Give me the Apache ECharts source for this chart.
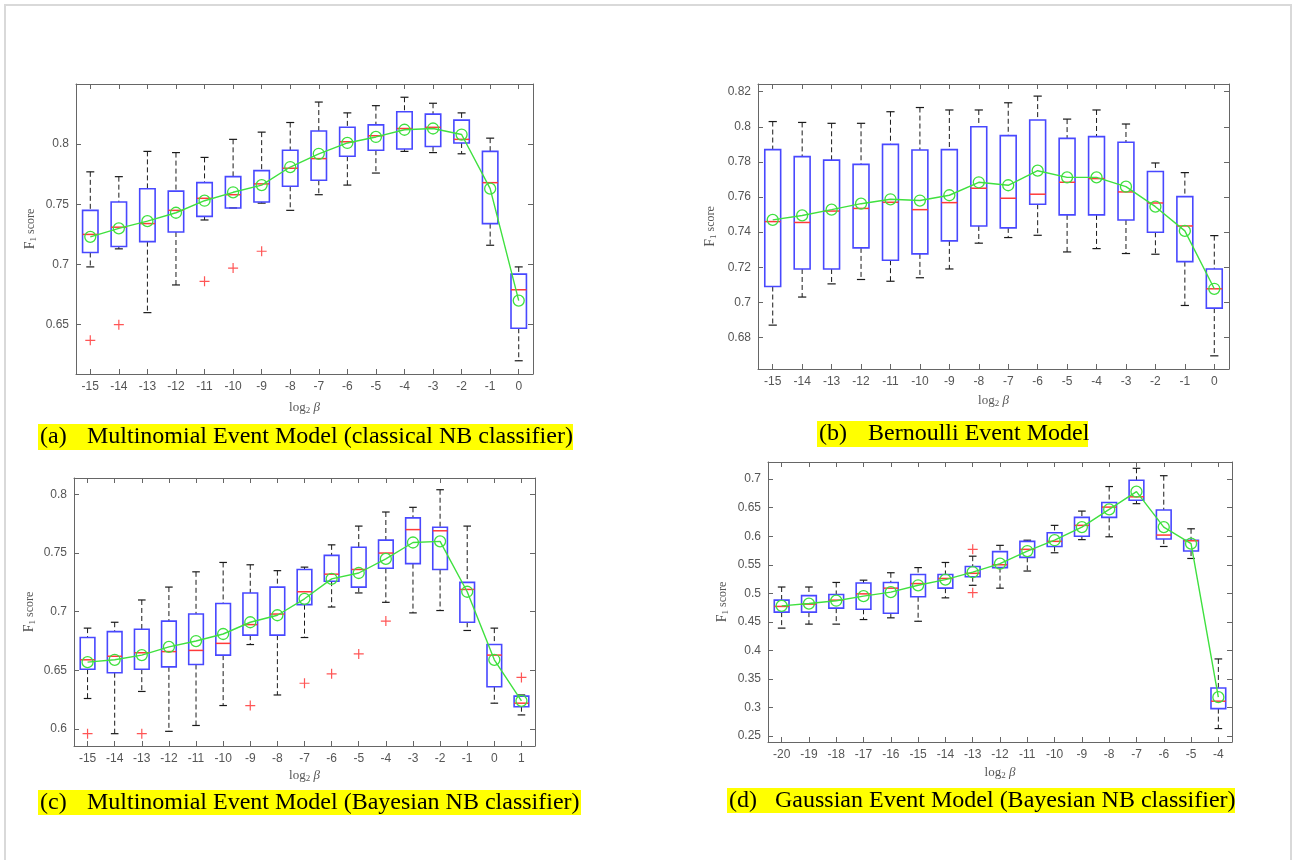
<!DOCTYPE html>
<html>
<head>
<meta charset="utf-8">
<style>
  html, body { margin: 0; padding: 0; background: #fff; }
  #main { width: 1295px; height: 860px; }
</style>
<script src="https://cdn.jsdelivr.net/npm/echarts/dist/echarts.min.js"></script>
</head>
<body>
<div id="main"></div>
<script>
// ---- data: [lower whisker, Q1, median, Q3, upper whisker] per category ----
var catsA = [-15, -14, -13, -12, -11, -10, -9, -8, -7, -6, -5, -4, -3, -2, -1, 0];
var boxA = [
  [0.698, 0.710, 0.725, 0.745, 0.777],
  [0.713, 0.715, 0.731, 0.752, 0.773],
  [0.660, 0.719, 0.734, 0.763, 0.794],
  [0.683, 0.727, 0.745, 0.761, 0.793],
  [0.737, 0.740, 0.755, 0.768, 0.789],
  [0.747, 0.747, 0.758, 0.773, 0.804],
  [0.751, 0.752, 0.767, 0.778, 0.810],
  [0.745, 0.765, 0.780, 0.795, 0.818],
  [0.758, 0.770, 0.788, 0.811, 0.835],
  [0.766, 0.790, 0.802, 0.814, 0.826],
  [0.776, 0.795, 0.807, 0.816, 0.832],
  [0.794, 0.796, 0.813, 0.827, 0.839],
  [0.793, 0.798, 0.814, 0.825, 0.834],
  [0.792, 0.801, 0.804, 0.820, 0.826],
  [0.716, 0.734, 0.768, 0.794, 0.805],
  [0.620, 0.647, 0.679, 0.692, 0.698]
];
var meanA = [0.723, 0.730, 0.736, 0.743, 0.753, 0.760, 0.766, 0.781, 0.792, 0.801, 0.806, 0.812, 0.813, 0.808, 0.763, 0.670];
var outA = [[-15, 0.637], [-14, 0.650], [-11, 0.686], [-10, 0.697], [-9, 0.711]];
var ticksA = [0.65, 0.7, 0.75, 0.8];

var catsB = [-15, -14, -13, -12, -11, -10, -9, -8, -7, -6, -5, -4, -3, -2, -1, 0];
var boxB = [
  [0.687, 0.709, 0.746, 0.787, 0.803],
  [0.703, 0.719, 0.7455, 0.783, 0.8025],
  [0.7105, 0.719, 0.752, 0.781, 0.802],
  [0.713, 0.731, 0.7535, 0.7786, 0.802],
  [0.712, 0.724, 0.757, 0.790, 0.8086],
  [0.714, 0.7276, 0.7528, 0.7868, 0.811],
  [0.719, 0.735, 0.7568, 0.787, 0.8096],
  [0.7337, 0.7435, 0.765, 0.800, 0.8096],
  [0.7369, 0.7424, 0.7593, 0.795, 0.8137],
  [0.7382, 0.7559, 0.7616, 0.8039, 0.8175],
  [0.7287, 0.7498, 0.7684, 0.7934, 0.8044],
  [0.7306, 0.7498, 0.7705, 0.7944, 0.8096],
  [0.7278, 0.7469, 0.7629, 0.7912, 0.8016],
  [0.7274, 0.7399, 0.7566, 0.7745, 0.7794],
  [0.6982, 0.7232, 0.7435, 0.7602, 0.7739],
  [0.6695, 0.6967, 0.7077, 0.719, 0.738]
];
var meanB = [0.747, 0.7495, 0.7528, 0.7562, 0.7587, 0.758, 0.761, 0.7684, 0.7667, 0.775, 0.7712, 0.7712, 0.7659, 0.7545, 0.7407, 0.7077];
var outB = [];
var ticksB = [0.68, 0.7, 0.72, 0.74, 0.76, 0.78, 0.8, 0.82];

var catsC = [-15, -14, -13, -12, -11, -10, -9, -8, -7, -6, -5, -4, -3, -2, -1, 0, 1];
var boxC = [
  [0.626, 0.651, 0.659, 0.678, 0.686],
  [0.596, 0.648, 0.662, 0.683, 0.691],
  [0.632, 0.651, 0.665, 0.685, 0.710],
  [0.598, 0.653, 0.666, 0.692, 0.721],
  [0.603, 0.655, 0.667, 0.698, 0.734],
  [0.620, 0.663, 0.673, 0.707, 0.742],
  [0.672, 0.680, 0.689, 0.716, 0.740],
  [0.629, 0.680, 0.698, 0.721, 0.735],
  [0.678, 0.706, 0.717, 0.736, 0.738],
  [0.704, 0.726, 0.732, 0.748, 0.757],
  [0.716, 0.721, 0.736, 0.755, 0.773],
  [0.708, 0.737, 0.750, 0.761, 0.785],
  [0.699, 0.741, 0.770, 0.780, 0.789],
  [0.701, 0.736, 0.769, 0.772, 0.804],
  [0.684, 0.691, 0.719, 0.725, 0.773],
  [0.622, 0.636, 0.663, 0.672, 0.686],
  [0.612, 0.619, 0.622, 0.628, 0.629]
];
var meanC = [0.657, 0.659, 0.663, 0.670, 0.675, 0.681, 0.691, 0.697, 0.711, 0.728, 0.733, 0.745, 0.759, 0.760, 0.717, 0.659, 0.624];
var outC = [[-15, 0.596], [-13, 0.596], [-9, 0.620], [-7, 0.639], [-6, 0.647], [-5, 0.664], [-4, 0.692], [1, 0.644]];
var ticksC = [0.6, 0.65, 0.7, 0.75, 0.8];

var catsD = [-20, -19, -18, -17, -16, -15, -14, -13, -12, -11, -10, -9, -8, -7, -6, -5, -4];
var boxD = [
  [0.439, 0.467, 0.477, 0.488, 0.511],
  [0.446, 0.467, 0.481, 0.496, 0.511],
  [0.446, 0.474, 0.488, 0.498, 0.519],
  [0.454, 0.472, 0.499, 0.518, 0.523],
  [0.457, 0.465, 0.509, 0.519, 0.536],
  [0.451, 0.494, 0.517, 0.533, 0.545],
  [0.492, 0.509, 0.526, 0.533, 0.554],
  [0.514, 0.529, 0.535, 0.547, 0.565],
  [0.509, 0.545, 0.550, 0.573, 0.584],
  [0.539, 0.563, 0.577, 0.591, 0.593],
  [0.571, 0.582, 0.591, 0.606, 0.619],
  [0.594, 0.600, 0.619, 0.633, 0.644],
  [0.599, 0.633, 0.651, 0.659, 0.687],
  [0.657, 0.663, 0.669, 0.698, 0.719],
  [0.582, 0.595, 0.602, 0.646, 0.706],
  [0.561, 0.574, 0.592, 0.593, 0.613],
  [0.263, 0.298, 0.311, 0.334, 0.385]
];
var meanD = [0.478, 0.482, 0.487, 0.495, 0.502, 0.514, 0.524, 0.537, 0.552, 0.574, 0.593, 0.616, 0.647, 0.678, 0.616, 0.587, 0.318];
var outD = [[-13, 0.577], [-13, 0.501]];
var ticksD = [0.25, 0.3, 0.35, 0.4, 0.45, 0.5, 0.55, 0.6, 0.65, 0.7];

var chart = echarts.init(document.getElementById('main'));

var AXIS = '#666';
var LABEL = '#555';
var GREEN = '#3fe03f';
var PLUS = 'path://M4.4,0h1.2v4.4h4.4v1.2h-4.4v4.4h-1.2v-4.4h-4.4v-1.2h4.4z';

function renderBox(params, api) {
  var k = api.value(0);
  var lo = api.coord([k, api.value(1)]);
  var q1 = api.coord([k, api.value(2)]);
  var md = api.coord([k, api.value(3)]);
  var q3 = api.coord([k, api.value(4)]);
  var hi = api.coord([k, api.value(5)]);
  var band = api.size([1, 0])[0];
  var hw = band * 0.27, cw = band * 0.14;
  var x = md[0];
  var dash = { stroke: '#1a1a1a', lineWidth: 1, lineDash: [5, 3] };
  var solid = { stroke: '#1a1a1a', lineWidth: 1.2 };
  return {
    type: 'group',
    children: [
      { type: 'line', shape: { x1: x, y1: hi[1], x2: x, y2: q3[1] }, style: dash },
      { type: 'line', shape: { x1: x, y1: q1[1], x2: x, y2: lo[1] }, style: dash },
      { type: 'line', shape: { x1: x - cw, y1: hi[1], x2: x + cw, y2: hi[1] }, style: solid },
      { type: 'line', shape: { x1: x - cw, y1: lo[1], x2: x + cw, y2: lo[1] }, style: solid },
      { type: 'rect', shape: { x: x - hw, y: q3[1], width: hw * 2, height: q1[1] - q3[1] },
        style: { fill: 'none', stroke: '#4848ff', lineWidth: 1.6 } },
      { type: 'line', shape: { x1: x - hw, y1: md[1], x2: x + hw, y2: md[1] },
        style: { stroke: '#ff3a3a', lineWidth: 1.5 } }
    ]
  };
}

var grids = [
  { left: 76, top: 84, width: 457, height: 290 },
  { left: 758, top: 84, width: 471, height: 285 },
  { left: 74, top: 478, width: 461, height: 268 },
  { left: 768, top: 462, width: 464, height: 280 }
];

var panels = [
  { cats: catsA, box: boxA, mean: meanA, out: outA, ticks: ticksA, min: 0.609, max: 0.850, yGap: 38, xGap: 26 },
  { cats: catsB, box: boxB, mean: meanB, out: outB, ticks: ticksB, min: 0.662, max: 0.8244, yGap: 40, xGap: 24 },
  { cats: catsC, box: boxC, mean: meanC, out: outC, ticks: ticksC, min: 0.5855, max: 0.814, yGap: 37, xGap: 22 },
  { cats: catsD, box: boxD, mean: meanD, out: outD, ticks: ticksD, min: 0.2395, max: 0.730, yGap: 38, xGap: 23 }
];

var xAxes = [], yAxes = [], series = [];

var tickStyle = { show: true, inside: true, length: 5, lineStyle: { color: AXIS } };
var lineStyle = { show: true, lineStyle: { color: AXIS, width: 1 } };
var labelFont = { color: LABEL, fontSize: 12, fontFamily: 'Liberation Sans' };

panels.forEach(function (p, i) {
  var catLabels = p.cats.map(String);
  xAxes.push({
    type: 'category', gridIndex: i, data: catLabels, position: 'bottom',
    axisLine: lineStyle,
    axisTick: Object.assign({ alignWithLabel: true, interval: 0 }, tickStyle),
    axisLabel: Object.assign({ interval: 0, margin: 7 }, labelFont),
    name: '{t|log}{s|2}{b| β}', nameLocation: 'middle', nameGap: p.xGap,
    nameTextStyle: {
      color: LABEL, fontFamily: 'Liberation Serif',
      rich: {
        t: { fontSize: 13, color: LABEL, fontFamily: 'Liberation Serif' },
        s: { fontSize: 9, color: LABEL, fontFamily: 'Liberation Serif', padding: [6, 0, 0, 0] },
        b: { fontSize: 13, color: LABEL, fontFamily: 'Liberation Serif', fontStyle: 'italic' }
      }
    }
  });
  xAxes.push({
    type: 'category', gridIndex: i, data: catLabels, position: 'top',
    axisLine: lineStyle,
    axisTick: Object.assign({ alignWithLabel: true, interval: 0 }, tickStyle),
    axisLabel: { show: false }
  });
  yAxes.push({
    type: 'value', gridIndex: i, position: 'left', min: p.min, max: p.max,
    splitLine: { show: false },
    axisLine: lineStyle,
    axisTick: Object.assign({ customValues: p.ticks }, tickStyle),
    axisLabel: Object.assign({ customValues: p.ticks, margin: 7 }, labelFont),
    name: '{f|F}{s|1}{t| score}', nameLocation: 'middle', nameRotate: 90, nameGap: p.yGap,
    nameTextStyle: {
      color: LABEL, fontFamily: 'Liberation Serif',
      rich: {
        f: { fontSize: 14, color: LABEL, fontFamily: 'Liberation Serif' },
        s: { fontSize: 9, color: LABEL, fontFamily: 'Liberation Serif', padding: [6, 0, 0, 0] },
        t: { fontSize: 12, color: LABEL, fontFamily: 'Liberation Serif' }
      }
    }
  });
  yAxes.push({
    type: 'value', gridIndex: i, position: 'right', min: p.min, max: p.max,
    splitLine: { show: false },
    axisLine: lineStyle,
    axisTick: Object.assign({ customValues: p.ticks }, tickStyle),
    axisLabel: { show: false }
  });

  series.push({
    type: 'custom', xAxisIndex: 2 * i, yAxisIndex: 2 * i, z: 2,
    renderItem: renderBox,
    encode: { x: 0, y: [1, 2, 3, 4, 5] },
    data: p.box.map(function (b, k) { return [k].concat(b); }),
    silent: true
  });
  series.push({
    type: 'line', xAxisIndex: 2 * i, yAxisIndex: 2 * i, z: 3,
    data: p.mean,
    symbol: 'circle', symbolSize: 11,
    lineStyle: { color: GREEN, width: 1.4 },
    itemStyle: { color: 'rgba(0,0,0,0)', borderColor: GREEN, borderWidth: 1.3 },
    silent: true
  });
  series.push({
    type: 'scatter', xAxisIndex: 2 * i, yAxisIndex: 2 * i, z: 4,
    data: p.out.map(function (o) { return [p.cats.indexOf(o[0]), o[1]]; }),
    symbol: PLUS, symbolSize: 10,
    itemStyle: { color: '#ff2a2a' },
    silent: true
  });
});

function caption(rx, ry, rw, rh, tag, txt, tx) {
  var font = '24px "Liberation Serif"';
  return [
    { type: 'rect', shape: { x: rx, y: ry, width: rw, height: rh }, style: { fill: '#ffff00' }, z: 10 },
    { type: 'text', x: rx + 2, y: ry + rh / 2, style: { text: tag, font: font, fill: '#000', verticalAlign: 'middle' }, z: 11 },
    { type: 'text', x: tx, y: ry + rh / 2, style: { text: txt, font: font, fill: '#000', verticalAlign: 'middle' }, z: 11 }
  ];
}

var graphics = [
  { type: 'rect', shape: { x: 5, y: 5, width: 1286, height: 870 }, style: { fill: 'none', stroke: '#d9d9d9', lineWidth: 2 }, z: 0 }
]
  .concat(caption(38, 424, 535, 26, '(a)', 'Multinomial Event Model (classical NB classifier)', 87))
  .concat(caption(817, 421, 271, 26, '(b)', 'Bernoulli Event Model', 868))
  .concat(caption(38, 790, 543, 25, '(c)', 'Multinomial Event Model (Bayesian NB classifier)', 87))
  .concat(caption(727, 788, 508, 25, '(d)', 'Gaussian Event Model (Bayesian NB classifier)', 775));

chart.setOption({
  animation: false,
  backgroundColor: '#fff',
  grid: grids,
  xAxis: xAxes,
  yAxis: yAxes,
  series: series,
  graphic: graphics
});
</script>
</body>
</html>
